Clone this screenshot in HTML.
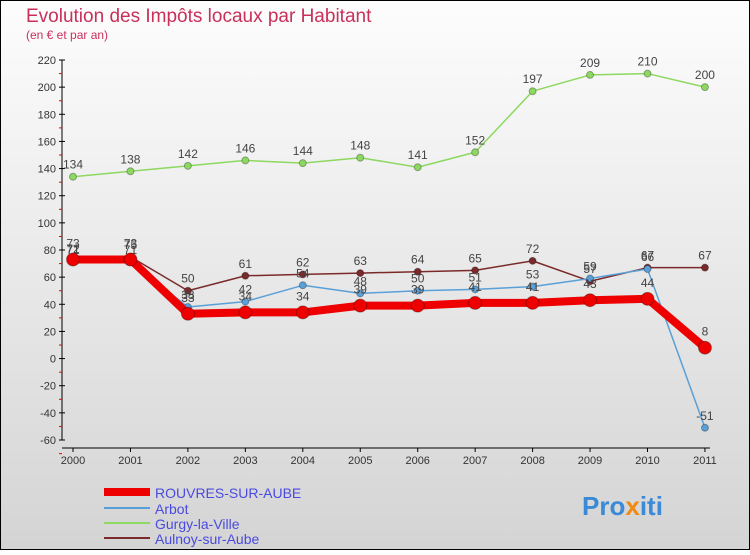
<!DOCTYPE html>
<html><head><meta charset="utf-8"><style>
body{margin:0;width:750px;height:550px;overflow:hidden;font-family:"Liberation Sans",sans-serif}
</style></head><body>
<svg id="c" width="750" height="550" xmlns="http://www.w3.org/2000/svg">
<defs><linearGradient id="bg" x1="0" y1="0" x2="0" y2="1"><stop offset="0" stop-color="#fdfdfd"/><stop offset="1" stop-color="#d4d4d4"/></linearGradient></defs>
<rect x="0.5" y="0.5" width="749" height="549" fill="url(#bg)" stroke="#000"/>
<text x="26" y="22" font-size="19" fill="#c8305a">Evolution des Impôts locaux par Habitant</text>
<text x="26" y="39" font-size="12" fill="#c8305a">(en € et par an)</text>
<g id="axes"></g><g id="series"></g>
<g>
<line x1="104" y1="492" x2="150" y2="492" stroke="#e00" stroke-width="8"/>
<text x="155" y="498" font-size="14" fill="#4a4ae0">ROUVRES-SUR-AUBE</text>
<line x1="104" y1="508" x2="150" y2="508" stroke="#5aa0d8" stroke-width="2"/>
<text x="155" y="514" font-size="14" fill="#4a4ae0">Arbot</text>
<line x1="104" y1="523" x2="150" y2="523" stroke="#8cd860" stroke-width="2"/>
<text x="155" y="529" font-size="14" fill="#4a4ae0">Gurgy-la-Ville</text>
<line x1="104" y1="538" x2="150" y2="538" stroke="#7a2a2a" stroke-width="2"/>
<text x="155" y="544" font-size="14" fill="#4a4ae0">Aulnoy-sur-Aube</text>
</g>
<text x="582" y="515" font-size="26" font-weight="bold"><tspan fill="#3a8ad8">Pro</tspan><tspan fill="#f08a10">x</tspan><tspan fill="#3a8ad8">iti</tspan></text>
</svg>
<script>
const years=[2000,2001,2002,2003,2004,2005,2006,2007,2008,2009,2010,2011];
const yTicks=[220,200,180,160,140,120,100,80,60,40,20,0,-20,-40,-60];
const rouvres=[73,73,33,34,34,39,39,41,41,43,44,8];
const arbot=[72,71,38,42,54,48,50,51,53,59,66,-51];
const gurgy=[134,138,142,146,144,148,141,152,197,209,210,200];
const aulnoy=[71,75,50,61,62,63,64,65,72,57,67,67];
const NS="http://www.w3.org/2000/svg";
const X=i=>73+i*57.45, Y=v=>60+(220-v)*380/280;
function mk(t,a,p){const e=document.createElementNS(NS,t);for(const k in a)e.setAttribute(k,a[k]);p.appendChild(e);return e;}
const ax=document.getElementById('axes');
let l=mk('line',{x1:62,y1:Y(220),x2:62,y2:Y(-60),stroke:'#000'},ax);


l=mk('line',{x1:62,y1:448,x2:710,y2:448,stroke:'#000'},ax);


yTicks.forEach(v=>{const y=Y(v);mk('line',{x1:59,y1:y,x2:65,y2:y,stroke:'#000'},ax);
mk('line',{x1:59,y1:y+13.6,x2:62,y2:y+13.6,stroke:'#e00'},ax);
const t=mk('text',{x:56,y:y+4,'font-size':11,fill:'#333','text-anchor':'end'},ax);t.textContent=v;

});
years.forEach((yr,i)=>{mk('line',{x1:X(i),y1:448,x2:X(i),y2:452,stroke:'#000'},ax);
const t=mk('text',{x:X(i),y:464,'font-size':11,fill:'#333','text-anchor':'middle'},ax);t.textContent=yr;

});
const sg=document.getElementById('series');
function series(data,color,w,r,name,lblOff){const g=mk('g',{},sg);


mk('polyline',{points:data.map((v,i)=>X(i)+','+Y(v)).join(' '),fill:'none',stroke:color,'stroke-width':w,'stroke-linejoin':'round'},g);
data.forEach((v,i)=>{const c=mk('circle',{cx:X(i),cy:Y(v),r:r,fill:color,stroke:'rgba(0,0,0,0.3)'},g);


const t=mk('text',{x:X(i),y:Y(v)-lblOff,'font-size':12,fill:'#444','text-anchor':'middle'},g);t.textContent=v;});}
series(gurgy,'#8cd860',1.5,3.5,'series-gurgy',8);
series(aulnoy,'#7a2a2a',1.5,3.5,'series-aulnoy',8);
series(arbot,'#5aa0d8',1.5,3.5,'series-arbot',8);
series(rouvres,'#e00',8,6.5,'series-rouvres',12);
</script>
</body></html>
